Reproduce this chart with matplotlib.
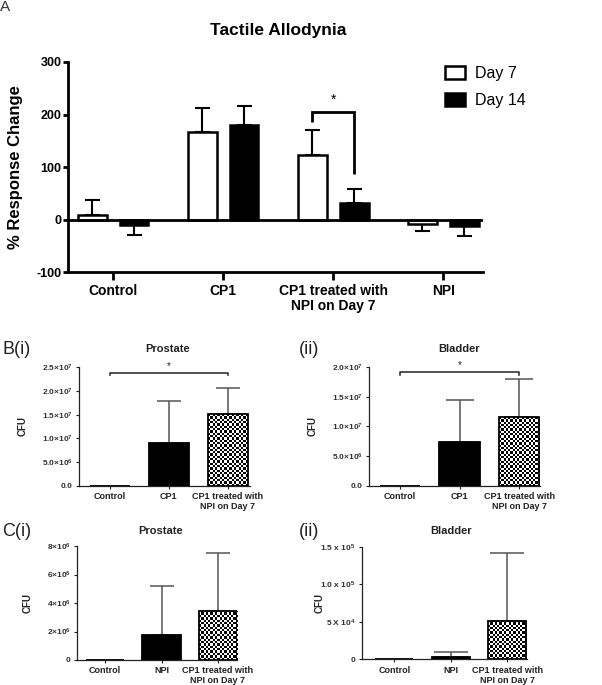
import matplotlib
matplotlib.use('Agg')
import matplotlib.pyplot as plt
import numpy as np

plt.rcParams['font.family'] = ['Liberation Sans', 'DejaVu Sans']
plt.rcParams['mathtext.default'] = 'regular'

W, H = 602, 685

# ---- panel A data ----
groups_A = ['Control', 'CP1', 'CP1 treated with\nNPI on Day 7', 'NPI']
day7_mean = [8, 167, 123, -9]
day7_err = [30, 46, 48, 12]
day14_mean = [-10, 180, 32, -12]
day14_err = [20, 37, 27, 20]
yticks_A = [-100, 0, 100, 200, 300]

# ---- panels B / C data ----
cats_B = ['Control', 'CP1', 'CP1 treated with\nNPI on Day 7']
cats_C = ['Control', 'NPI', 'CP1 treated with\nNPI on Day 7']
prostate_B = [0, 9.1e6, 1.51e7]
prostate_B_err = [0, 8.8e6, 5.6e6]
bladder_B = [0, 7.4e6, 1.16e7]
bladder_B_err = [0, 7.0e6, 6.4e6]
prostate_C = [0, 1.75e6, 3.46e6]
prostate_C_err = [0, 3.45e6, 4.03e6]
bladder_C = [0, 2.7e3, 5.1e4]
bladder_C_err = [0, 6.6e3, 9.0e4]

ticks_PB = [0, 5e6, 1e7, 1.5e7, 2e7, 2.5e7]
labels_PB = ['0.0', '5.0×10$^{6}$', '1.0×10$^{7}$', '1.5×10$^{7}$',
             '2.0×10$^{7}$', '2.5×10$^{7}$']
ticks_BB = [0, 5e6, 1e7, 1.5e7, 2e7]
labels_BB = ['0.0', '5.0×10$^{6}$', '1.0×10$^{7}$', '1.5×10$^{7}$',
             '2.0×10$^{7}$']
ticks_PC = [0, 2e6, 4e6, 6e6, 8e6]
labels_PC = ['0', '2×10$^{6}$', '4×10$^{6}$', '6×10$^{6}$', '8×10$^{6}$']
ticks_BC = [0, 5e4, 1e5, 1.5e5]
labels_BC = ['0', '5 X 10$^{4}$', '1.0 x 10$^{5}$', '1.5 x 10$^{5}$']


def rect(left, top, right, bottom):
    return [left / W, 1 - bottom / H, (right - left) / W, (bottom - top) / H]


def checker(ax, bar, cell_px=2.3):
    x0, y0 = bar.get_x(), bar.get_y()
    x1, y1 = x0 + bar.get_width(), y0 + bar.get_height()
    p0 = ax.transData.transform((x0, y0))
    p1 = ax.transData.transform((x1, y1))
    nx = max(int(round(abs(p1[0] - p0[0]) / cell_px)), 1)
    ny = max(int(round(abs(p1[1] - p0[1]) / cell_px)), 1)
    pat = np.indices((ny, nx)).sum(0) % 2
    xl, yl = ax.get_xlim(), ax.get_ylim()
    im = ax.imshow(pat, cmap='gray', extent=(x0, x1, y0, y1), aspect='auto',
                   interpolation='nearest', zorder=2)
    im.set_clip_path(bar)
    ax.set_xlim(xl)
    ax.set_ylim(yl)


fig = plt.figure(figsize=(W / 100, H / 100), dpi=100)

# ================= Panel A =================
axA = fig.add_axes(rect(68, 62, 483, 272))
x = np.arange(len(groups_A))
off, bw = 0.19, 0.26
axA.set_xlim(-0.41, 3.36)
axA.set_ylim(-100, 300)


def err_dir(means, errs):
    lo = [e if m < 0 else 0 for m, e in zip(means, errs)]
    hi = [e if m >= 0 else 0 for m, e in zip(means, errs)]
    return [lo, hi]


b7 = axA.bar(x - off, day7_mean, bw, color='white', edgecolor='black',
             linewidth=1.8, label='Day 7', zorder=3)
b14 = axA.bar(x + off, day14_mean, bw, color='black', edgecolor='black',
              linewidth=1.8, label='Day 14', zorder=3)
axA.errorbar(x - off, day7_mean, yerr=err_dir(day7_mean, day7_err), fmt='none',
             ecolor='black', elinewidth=1.5, capsize=5.4, capthick=1.5, zorder=2)
axA.errorbar(x + off, day14_mean, yerr=err_dir(day14_mean, day14_err), fmt='none',
             ecolor='black', elinewidth=1.5, capsize=5.4, capthick=1.5, zorder=2)
axA.axhline(0, color='black', linewidth=2, zorder=4)

# significance bracket
xs = [x[2] - off, x[2] - off, x[2] + off, x[2] + off]
axA.plot(xs, [186, 204, 204, 87], color='black', linewidth=2,
         solid_capstyle='butt', solid_joinstyle='miter')
axA.text(x[2], 214, '*', ha='center', va='bottom', fontsize=10)

for s in ['top', 'right']:
    axA.spines[s].set_visible(False)
for s in ['left', 'bottom']:
    axA.spines[s].set_linewidth(2)
axA.set_xticks(x)
axA.set_xticklabels(groups_A, fontsize=10, fontweight='bold', linespacing=1.1)
axA.set_yticks(yticks_A)
axA.set_yticklabels([str(v) for v in yticks_A], fontsize=9, fontweight='bold')
axA.tick_params(axis='x', length=5.5, width=2, pad=3)
axA.tick_params(axis='y', length=3.6, width=2, pad=1)
axA.set_ylabel('% Response Change', fontsize=12, fontweight='bold')
axA.yaxis.set_label_coords(-0.108, 0.5)
leg = axA.legend(loc='upper left', bbox_to_anchor=(445 / W, 1 - 66 / H),
                 bbox_transform=fig.transFigure, frameon=False, fontsize=11.5,
                 handlelength=1.25, handleheight=0.85, handletextpad=0.6,
                 labelspacing=0.75, borderpad=0, borderaxespad=0)
fig.text(278 / W, 1 - 31 / H, 'Tactile Allodynia', ha='center', va='center',
         fontsize=12.5, fontweight='bold')
fig.text(0, 1 - 7 / H, 'A', ha='left', va='center', fontsize=11, color='#333333')


# ================= Panels B / C =================
def small_panel(box, cats, vals, errs, ylim, ticks, labels, xlim, capsize,
                title, title_xy, letter, letter_xy, ylab_x, sig=None):
    ax = fig.add_axes(rect(*box))
    xc = np.arange(len(cats))
    ax.set_xlim(*xlim)
    ax.set_ylim(*ylim)
    bars = ax.bar(xc, vals, 0.68, color=['black', 'black', 'none'],
                  edgecolor='black', linewidth=1.3, zorder=3)
    checker(ax, bars[2])
    idx = [i for i, e in enumerate(errs) if e > 0]
    ax.errorbar(xc[idx], np.array(vals)[idx],
                yerr=[np.zeros(len(idx)), np.array(errs)[idx]], fmt='none',
                ecolor='#555555', elinewidth=1.1, capsize=capsize, capthick=1.1,
                zorder=1)
    for s in ['top', 'right']:
        ax.spines[s].set_visible(False)
    for s in ['left', 'bottom']:
        ax.spines[s].set_linewidth(0.9)
        ax.spines[s].set_color('#222222')
    ax.set_xticks(xc)
    ax.set_xticklabels(cats, fontsize=6.5, fontweight='bold', color='#222222',
                       linespacing=1.15)
    ax.set_yticks(ticks)
    ax.set_yticklabels(labels, fontsize=6, fontweight='bold', color='#333333')
    ax.tick_params(length=2.5, width=0.8, pad=2, color='#222222')
    ax.set_ylabel('CFU', fontsize=7, fontweight='bold', color='#222222')
    ax.yaxis.set_label_coords(ylab_x, 0.5)
    if sig is not None:
        d = (ylim[1] - ylim[0]) * 0.025
        ax.plot([xc[0], xc[0], xc[2], xc[2]], [sig - d, sig, sig, sig - d],
                color='#222222', linewidth=1.1, clip_on=False)
        ax.text(xc[1], sig + d * 0.6, '*', ha='center', va='bottom',
                fontsize=7, color='#222222')
    fig.text(title_xy[0] / W, 1 - title_xy[1] / H, title, ha='center',
             va='center', fontsize=8, fontweight='bold', color='#222222')
    fig.text(letter_xy[0] / W, 1 - letter_xy[1] / H, letter, ha='left',
             va='center', fontsize=13, color='#222222')
    return ax


small_panel((79, 367.3, 250, 485.7), cats_B, prostate_B, prostate_B_err,
            (0, 2.5e7), ticks_PB, labels_PB, (-0.53, 2.38), 8.3,
            'Prostate', (168, 349), 'B(i)', (2, 349), -0.298, sig=2.39e7)
small_panel((369, 367.3, 540, 485.7), cats_B, bladder_B, bladder_B_err,
            (0, 2e7), ticks_BB, labels_BB, (-0.52, 2.35), 10,
            'Bladder', (459, 349), '(ii)', (299, 349), -0.298, sig=1.915e7)
small_panel((77, 546, 237, 660), cats_C, prostate_C, prostate_C_err,
            (0, 8e6), ticks_PC, labels_PC, (-0.5, 2.34), 8.7,
            'Prostate', (161, 531), 'C(i)', (2, 531), -0.275)
small_panel((362, 546.7, 527, 659.3), cats_C, bladder_C, bladder_C_err,
            (0, 1.5e5), ticks_BC, labels_BC, (-0.57, 2.35), 12,
            'Bladder', (451, 531), '(ii)', (299, 531), -0.224)

fig.savefig('out.png', dpi=100)
